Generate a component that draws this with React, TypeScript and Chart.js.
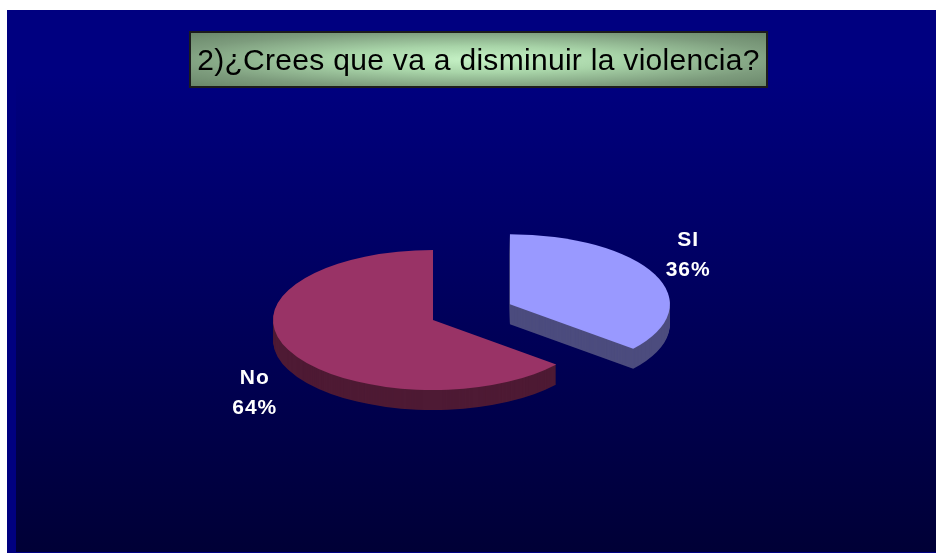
import React, { useEffect, useRef } from 'react';
import { Chart, registerables } from 'chart.js';

Chart.register(...registerables);

// ---- data ----
const categories = ['SI', 'No'];
const values = [36, 64];
const percentLabels = ['36%', '64%'];
const titleText = '2)¿Crees que va a disminuir la violencia?';

// ---- style ----
const TOP_COLORS = ['#9999ff', '#993366'];
const SIDE_COLORS = ['#4c4c7e', '#4e1a34'];
const EXPLODE = [85, 0];
const TILT = 0.4375;
const DEPTH = 20;
const RADIUS = 160;
const LABEL_GAP = 37;
const LABEL_TILT = 0.61;
const FONT = '"Liberation Sans", Arial, sans-serif';

const pie3d = {
  id: 'pie3d',
  beforeDatasetsDraw(chart: any) {
    const ctx = chart.ctx;
    const arcs = chart.getDatasetMeta(0).data;
    const drawOne = (el: any, i: number, dy: number, color: string) => {
      const p = el.getProps(['x', 'y', 'startAngle', 'endAngle']);
      const mid = (p.startAngle + p.endAngle) / 2;
      const ex = EXPLODE[i] || 0;
      ctx.save();
      ctx.translate(p.x + Math.cos(mid) * ex, p.y + Math.sin(mid) * ex * TILT + dy);
      ctx.scale(1, TILT);
      ctx.translate(-p.x, -p.y);
      const fake = Object.create(el);
      fake.options = Object.assign({}, el.options, {
        backgroundColor: color,
        borderColor: color,
        borderWidth: 0,
        offset: 0,
        spacing: 0,
      });
      fake.draw(ctx);
      ctx.restore();
    };
    for (let d = DEPTH; d >= 1; d--) {
      arcs.forEach((el: any, i: number) => drawOne(el, i, d, SIDE_COLORS[i]));
    }
    arcs.forEach((el: any, i: number) => drawOne(el, i, 0, TOP_COLORS[i]));
    return false;
  },
  afterDraw(chart: any) {
    const ctx = chart.ctx;
    const arcs = chart.getDatasetMeta(0).data;
    arcs.forEach((el: any, i: number) => {
      const p = el.getProps(['x', 'y', 'startAngle', 'endAngle', 'outerRadius']);
      const mid = (p.startAngle + p.endAngle) / 2;
      const ex = EXPLODE[i] || 0;
      const cx = p.x + Math.cos(mid) * ex;
      const cy = p.y + Math.sin(mid) * ex * TILT;
      const R = p.outerRadius + LABEL_GAP;
      const lx = cx + Math.cos(mid) * R;
      const ly = cy + Math.sin(mid) * R * LABEL_TILT + (Math.sin(mid) > 0 ? DEPTH : 0);
      ctx.save();
      ctx.fillStyle = '#ffffff';
      ctx.font = `bold 21px ${FONT}`;
      (ctx as any).letterSpacing = '1px';
      ctx.textAlign = 'center';
      ctx.textBaseline = 'alphabetic';
      ctx.fillText(categories[i], lx, ly - 15 + 7.5);
      ctx.fillText(percentLabels[i], lx, ly + 15 + 7.5);
      ctx.restore();
    });
  },
};

export default function App() {
  const ref = useRef<HTMLCanvasElement | null>(null);
  useEffect(() => {
    if (!ref.current) return;
    const chart = new Chart(ref.current, {
      type: 'pie',
      data: {
        labels: categories,
        datasets: [
          {
            data: values,
            backgroundColor: TOP_COLORS,
            borderWidth: 0,
            radius: RADIUS,
          } as any,
        ],
      },
      options: {
        responsive: false,
        animation: false,
        events: [],
        layout: { padding: { left: 0, right: 77, top: 77, bottom: 0 } },
        plugins: {
          legend: { display: false },
          tooltip: { enabled: false },
          title: { display: false },
        },
      } as any,
      plugins: [pie3d as any],
    });
    return () => chart.destroy();
  }, []);

  return (
    <div
      style={{
        position: 'absolute',
        left: 7,
        top: 10,
        width: 929,
        height: 543,
        background: '#000080',
        overflow: 'hidden',
      }}
    >
      <div
        style={{
          position: 'absolute',
          left: 9,
          top: 0,
          width: 920,
          height: 542,
          background: 'linear-gradient(to bottom, #000080 0%, #000080 12%, #000036 100%)',
        }}
      />
      <canvas
        ref={ref}
        width={929}
        height={543}
        style={{ position: 'absolute', left: 0, top: 0, width: 929, height: 543 }}
      />
      <div
        style={{
          position: 'absolute',
          left: 182,
          top: 21,
          width: 579,
          height: 57,
          boxSizing: 'border-box',
          border: '2px solid #1c1c1c',
          background:
            'radial-gradient(ellipse at center, #c6f2c6 0%, #a8d4a8 35%, #7d9c7d 75%, #6a876a 100%)',
          display: 'flex',
          alignItems: 'center',
          justifyContent: 'center',
          fontFamily: FONT,
          fontSize: 30,
          letterSpacing: '0.3px',
          color: '#000000',
          whiteSpace: 'nowrap',
        }}
      >
        {titleText}
      </div>
    </div>
  );
}
